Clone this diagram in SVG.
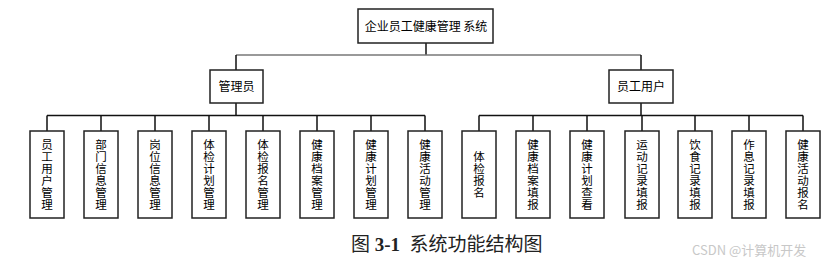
<svg xmlns="http://www.w3.org/2000/svg" width="835" height="268" viewBox="0 0 835 268">
<style>
.box{fill:#fff;stroke:#222;stroke-width:1.5}
.t{font-family:"Noto Sans CJK SC","Liberation Sans",sans-serif;font-size:12px;fill:#000;text-anchor:middle}
.v{font-family:"Noto Sans CJK SC","Liberation Sans",sans-serif;font-size:11.5px;fill:#000;text-anchor:middle}
.c{stroke:#111;stroke-width:1.5;fill:none}
.cap{font-family:"Liberation Serif","Noto Sans CJK SC",serif;font-size:19px;fill:#222}
</style>
<rect width="835" height="268" fill="#fff"/>
<g id="connectors">
<path class="c" d="M426 43V55"/>
<path d="M236 55H641" stroke="#777" stroke-width="1.5" fill="none"/>
<path class="c" d="M236 55V70M641 55V70"/>
<path class="c" d="M236 103V115.5M47 115.5H425M47 115.5V131M101 115.5V131M155 115.5V131M209 115.5V131M263 115.5V131M317 115.5V131M371 115.5V131M425 115.5V131"/>
<path class="c" d="M641 103V115.5M479 115.5H803M479 115.5V131M533 115.5V131M587 115.5V131M642 115.5V131M695 115.5V131M749 115.5V131M803 115.5V131"/>
</g>
<g id="root"><rect class="box" x="358" y="9" width="135" height="34"/><text class="t" x="426" y="30.5">企业员工健康管理 系统</text></g>
<g id="admin"><rect class="box" x="210" y="70" width="53" height="33"/><text class="t" x="236.5" y="91">管理员</text></g>
<g id="user"><rect class="box" x="609" y="70" width="64" height="33"/><text class="t" x="641" y="91">员工用户</text></g>
<g id="a1"><rect class="box" x="30" y="131" width="34" height="87"/><text class="v"><tspan x="47" y="148.5">员</tspan><tspan x="47" y="160.5">工</tspan><tspan x="47" y="172.5">用</tspan><tspan x="47" y="184.5">户</tspan><tspan x="47" y="196.5">管</tspan><tspan x="47" y="208.5">理</tspan></text></g>
<g id="a2"><rect class="box" x="84" y="131" width="34" height="87"/><text class="v"><tspan x="101" y="148.5">部</tspan><tspan x="101" y="160.5">门</tspan><tspan x="101" y="172.5">信</tspan><tspan x="101" y="184.5">息</tspan><tspan x="101" y="196.5">管</tspan><tspan x="101" y="208.5">理</tspan></text></g>
<g id="a3"><rect class="box" x="138" y="131" width="34" height="87"/><text class="v"><tspan x="155" y="148.5">岗</tspan><tspan x="155" y="160.5">位</tspan><tspan x="155" y="172.5">信</tspan><tspan x="155" y="184.5">息</tspan><tspan x="155" y="196.5">管</tspan><tspan x="155" y="208.5">理</tspan></text></g>
<g id="a4"><rect class="box" x="192" y="131" width="34" height="87"/><text class="v"><tspan x="209" y="148.5">体</tspan><tspan x="209" y="160.5">检</tspan><tspan x="209" y="172.5">计</tspan><tspan x="209" y="184.5">划</tspan><tspan x="209" y="196.5">管</tspan><tspan x="209" y="208.5">理</tspan></text></g>
<g id="a5"><rect class="box" x="246" y="131" width="34" height="87"/><text class="v"><tspan x="263" y="148.5">体</tspan><tspan x="263" y="160.5">检</tspan><tspan x="263" y="172.5">报</tspan><tspan x="263" y="184.5">名</tspan><tspan x="263" y="196.5">管</tspan><tspan x="263" y="208.5">理</tspan></text></g>
<g id="a6"><rect class="box" x="300" y="131" width="34" height="87"/><text class="v"><tspan x="317" y="148.5">健</tspan><tspan x="317" y="160.5">康</tspan><tspan x="317" y="172.5">档</tspan><tspan x="317" y="184.5">案</tspan><tspan x="317" y="196.5">管</tspan><tspan x="317" y="208.5">理</tspan></text></g>
<g id="a7"><rect class="box" x="354" y="131" width="34" height="87"/><text class="v"><tspan x="371" y="148.5">健</tspan><tspan x="371" y="160.5">康</tspan><tspan x="371" y="172.5">计</tspan><tspan x="371" y="184.5">划</tspan><tspan x="371" y="196.5">管</tspan><tspan x="371" y="208.5">理</tspan></text></g>
<g id="a8"><rect class="box" x="408" y="131" width="34" height="87"/><text class="v"><tspan x="425" y="148.5">健</tspan><tspan x="425" y="160.5">康</tspan><tspan x="425" y="172.5">活</tspan><tspan x="425" y="184.5">动</tspan><tspan x="425" y="196.5">管</tspan><tspan x="425" y="208.5">理</tspan></text></g>
<g id="u1"><rect class="box" x="462" y="131" width="34" height="87"/><text class="v"><tspan x="479" y="160.5">体</tspan><tspan x="479" y="172.5">检</tspan><tspan x="479" y="184.5">报</tspan><tspan x="479" y="196.5">名</tspan></text></g>
<g id="u2"><rect class="box" x="516" y="131" width="34" height="87"/><text class="v"><tspan x="533" y="148.5">健</tspan><tspan x="533" y="160.5">康</tspan><tspan x="533" y="172.5">档</tspan><tspan x="533" y="184.5">案</tspan><tspan x="533" y="196.5">填</tspan><tspan x="533" y="208.5">报</tspan></text></g>
<g id="u3"><rect class="box" x="570" y="131" width="34" height="87"/><text class="v"><tspan x="587" y="148.5">健</tspan><tspan x="587" y="160.5">康</tspan><tspan x="587" y="172.5">计</tspan><tspan x="587" y="184.5">划</tspan><tspan x="587" y="196.5">查</tspan><tspan x="587" y="208.5">看</tspan></text></g>
<g id="u4"><rect class="box" x="625" y="131" width="34" height="87"/><text class="v"><tspan x="642" y="148.5">运</tspan><tspan x="642" y="160.5">动</tspan><tspan x="642" y="172.5">记</tspan><tspan x="642" y="184.5">录</tspan><tspan x="642" y="196.5">填</tspan><tspan x="642" y="208.5">报</tspan></text></g>
<g id="u5"><rect class="box" x="678" y="131" width="34" height="87"/><text class="v"><tspan x="695" y="148.5">饮</tspan><tspan x="695" y="160.5">食</tspan><tspan x="695" y="172.5">记</tspan><tspan x="695" y="184.5">录</tspan><tspan x="695" y="196.5">填</tspan><tspan x="695" y="208.5">报</tspan></text></g>
<g id="u6"><rect class="box" x="732" y="131" width="34" height="87"/><text class="v"><tspan x="749" y="148.5">作</tspan><tspan x="749" y="160.5">息</tspan><tspan x="749" y="172.5">记</tspan><tspan x="749" y="184.5">录</tspan><tspan x="749" y="196.5">填</tspan><tspan x="749" y="208.5">报</tspan></text></g>
<g id="u7"><rect class="box" x="786" y="131" width="34" height="87"/><text class="v"><tspan x="803" y="148.5">健</tspan><tspan x="803" y="160.5">康</tspan><tspan x="803" y="172.5">活</tspan><tspan x="803" y="184.5">动</tspan><tspan x="803" y="196.5">报</tspan><tspan x="803" y="208.5">名</tspan></text></g>
<text class="cap" x="351" y="251" xml:space="preserve">图 <tspan font-weight="bold">3-1</tspan>  系统功能结构图</text>
<text x="692" y="255" font-family="Noto Sans CJK SC,Liberation Sans,sans-serif" font-size="13" fill="#c8c8c8">CSDN @计算机开发</text>
</svg>
